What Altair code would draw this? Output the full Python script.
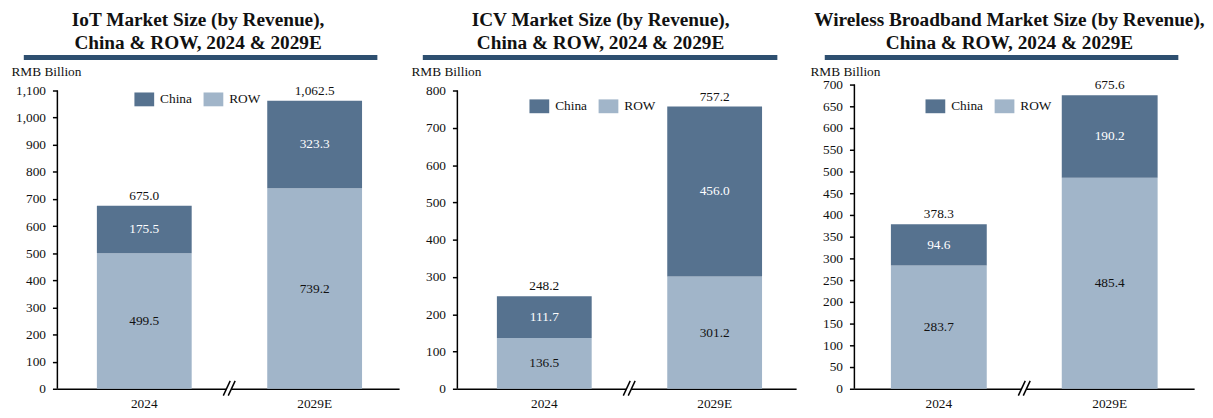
import altair as alt
import pandas as pd

years = ["2024", "2029E"]
series = ["China", "ROW"]

iot_china = [175.5, 323.3]
iot_row = [499.5, 739.2]
iot_total = [675.0, 1062.5]

icv_china = [111.7, 456.0]
icv_row = [136.5, 301.2]
icv_total = [248.2, 757.2]

wb_china = [94.6, 190.2]
wb_row = [283.7, 485.4]
wb_total = [378.3, 675.6]

titles = [
    ["IoT Market Size (by Revenue),", "China & ROW, 2024 & 2029E"],
    ["ICV Market Size (by Revenue),", "China & ROW, 2024 & 2029E"],
    ["Wireless Broadband Market Size (by Revenue),", "China & ROW, 2024 & 2029E"],
]
y_max = [1100, 800, 700]
y_step = [100, 100, 50]
unit_label = "RMB Billion"

CHINA = "#56728F"
ROWC = "#A1B5C9"
NAVY = "#2E4F70"
INK = "#111111"
FONT = "Liberation Serif"
H = 308


def panel(title_lines, china, row, total, ymax, ystep, axis_px, W, pin, pout, align,
          lx, ly, tdx, rx0, rx1, utx, bx):
    seg = pd.DataFrame({
        "year": years * 2,
        "series": ["ROW"] * 2 + ["China"] * 2,
        "value": row + china,
        "order": [0, 0, 1, 1],
        "mid": [r / 2 for r in row] + [r + c / 2 for r, c in zip(row, china)],
    })
    tot = pd.DataFrame({"year": years, "total": total})
    one = pd.DataFrame({"k": [0]})
    axis_df = pd.DataFrame({"y0": [0], "y1": [ymax]})

    xenc = alt.X("year:N", sort=years,
                 scale=alt.Scale(paddingInner=pin, paddingOuter=pout, align=align),
                 axis=alt.Axis(title=None, labelAngle=0, ticks=False, domainColor="black",
                               domainWidth=1.5, labelFont=FONT, labelFontSize=13.5,
                               labelColor=INK, labelPadding=8))
    # plot height is shared; the top tick sits axis_px pixels below the plot top
    top = ymax * H / (H - axis_px)
    yscale = alt.Scale(domain=[0, top], nice=False, zero=True)
    yaxis = alt.Axis(values=list(range(0, ymax + 1, ystep)), format=",.0f",
                     grid=False, domain=False,
                     tickColor="black", tickWidth=1.5, tickSize=5,
                     labelFont=FONT, labelFontSize=13.5, labelColor=INK,
                     labelPadding=7, minExtent=47, maxExtent=47,
                     title=unit_label, titleAngle=0, titleAlign="left",
                     titleBaseline="middle", titleX=utx, titleY=-13,
                     titleFont=FONT, titleFontSize=13.5,
                     titleFontWeight="normal", titleColor=INK)

    bars = alt.Chart(seg).mark_bar().encode(
        x=xenc,
        y=alt.Y("value:Q", stack="zero", scale=yscale, axis=yaxis),
        color=alt.Color("series:N",
                        scale=alt.Scale(domain=series, range=[CHINA, ROWC]),
                        legend=alt.Legend(title=None, orient="none", legendX=lx, legendY=ly,
                                          direction="horizontal",
                                          symbolType="M-1,-0.7H1V0.7H-1Z", symbolSize=400,
                                          symbolStrokeWidth=0, symbolOpacity=1,
                                          labelFont=FONT, labelFontSize=13.5,
                                          labelColor=INK, labelOffset=6,
                                          columnPadding=11, padding=0)),
        order=alt.Order("order:Q"),
    )

    yline = alt.Chart(axis_df).mark_rule(color="black", strokeWidth=1.5).encode(
        x=alt.value(0),
        y=alt.Y("y0:Q", scale=yscale, axis=yaxis),
        y2="y1:Q",
    )

    seg_text_row = alt.Chart(seg).transform_filter(alt.datum.series == "ROW").mark_text(
        font=FONT, fontSize=13.5, color=INK, baseline="middle"
    ).encode(x=alt.X("year:N", sort=years), y=alt.Y("mid:Q", scale=yscale, axis=yaxis),
             text=alt.Text("value:Q", format=".1f"))
    seg_text_cn = alt.Chart(seg).transform_filter(alt.datum.series == "China").mark_text(
        font=FONT, fontSize=13.5, color="white", baseline="middle"
    ).encode(x=alt.X("year:N", sort=years), y=alt.Y("mid:Q", scale=yscale, axis=yaxis),
             text=alt.Text("value:Q", format=".1f"))
    tot_text = alt.Chart(tot).mark_text(
        font=FONT, fontSize=13.5, color=INK, baseline="middle", dy=-10
    ).encode(x=alt.X("year:N", sort=years), y=alt.Y("total:Q", scale=yscale, axis=yaxis),
             text=alt.Text("total:Q", format=",.1f"))

    rule = alt.Chart(one).mark_rule(color=NAVY, strokeWidth=5).encode(
        x=alt.value(rx0), x2=alt.value(rx1), y=alt.value(-27.5))

    gap = alt.Chart(one).mark_rule(color="white", strokeWidth=4).encode(
        x=alt.value(bx + 1), x2=alt.value(bx + 6), y=alt.value(H))
    s1 = alt.Chart(one).mark_rule(color="black", strokeWidth=1.5).encode(
        x=alt.value(bx - 2), x2=alt.value(bx + 5), y=alt.value(H + 7), y2=alt.value(H - 8))
    s2 = alt.Chart(one).mark_rule(color="black", strokeWidth=1.5).encode(
        x=alt.value(bx + 3), x2=alt.value(bx + 10), y=alt.value(H + 7), y2=alt.value(H - 8))

    return alt.layer(bars, yline, seg_text_row, seg_text_cn, tot_text, rule, gap, s1, s2).properties(
        width=W, height=H,
        title=alt.TitleParams(text=title_lines, font=FONT, fontSize=19.5, fontWeight="bold",
                              color=INK, anchor="middle", frame="group", dx=tdx,
                              offset=1.5, lineHeight=23),
    )


p1 = panel(titles[0], iot_china, iot_row, iot_total, y_max[0], y_step[0], 6,
           346, 0.4435, 0.2247, 0.516, 78, 5, -30.5, -34, 324, -47, 170)
p2 = panel(titles[1], icv_china, icv_row, icv_total, y_max[1], y_step[1], 6,
           343, 0.4435, 0.216, 0.537, 73, 12, -26.5, -35, 324, -47, 170)
p3 = panel(titles[2], wb_china, wb_row, wb_total, y_max[2], y_step[2], 0,
           344, 0.439, 0.2137, 0.5, 72, 12, -15, -30, 328, -45, 168)

chart = alt.hconcat(p1, p2, p3, spacing=12).resolve_scale(
    x="independent", y="independent"
).resolve_legend(color="independent").properties(
    padding={"left": 3, "top": 0, "right": 0, "bottom": 0}
).configure_view(stroke=None)

chart.save("out.html", embed_options={"renderer": "svg", "actions": False})
